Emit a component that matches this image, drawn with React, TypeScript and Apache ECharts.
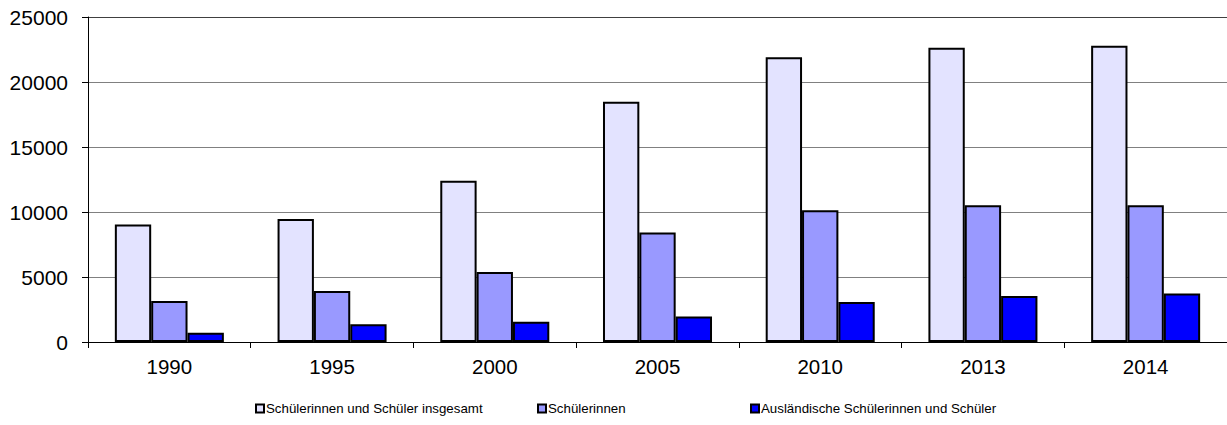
import React, { useEffect, useRef } from "react";
import * as echarts from "echarts";

const categories = ["1990", "1995", "2000", "2005", "2010", "2013", "2014"];
const seriesNames = [
  "Schülerinnen und Schüler insgesamt",
  "Schülerinnen",
  "Ausländische Schülerinnen und Schüler",
];
const totalValues = [9030, 9460, 12400, 18480, 21900, 22640, 22790];
const femaleValues = [3150, 3920, 5390, 8420, 10130, 10510, 10510];
const foreignValues = [720, 1360, 1560, 1970, 3080, 3540, 3740];
const seriesColors = ["#E3E3FF", "#9999FF", "#0000FF"];
const legendLefts = [255, 537, 750];

const FONT = "'Liberation Sans', Arial, sans-serif";

export default function App() {
  const ref = useRef<HTMLDivElement>(null);
  useEffect(() => {
    if (!ref.current) return;
    const chart = echarts.init(ref.current, null, { renderer: "svg" });
    const values = [totalValues, femaleValues, foreignValues];
    chart.setOption({
      animation: false,
      backgroundColor: "#ffffff",
      textStyle: { fontFamily: FONT, color: "#000" },
      grid: { left: 88, right: 0, top: 17, bottom: 83, containLabel: false },
      legend: seriesNames.map((name, i) => ({
        data: [name],
        left: legendLefts[i],
        top: 402,
        itemWidth: 8,
        itemHeight: 8,
        icon: "rect",
        selectedMode: false,
        padding: 0,
        textStyle: { fontFamily: FONT, fontSize: 13.3, color: "#000", padding: [0, 0, 0, -3] },
      })),
      xAxis: {
        type: "category",
        data: categories,
        axisLine: { show: true, lineStyle: { color: "#000", width: 1 } },
        axisTick: { show: true, length: 6, alignWithLabel: false, lineStyle: { color: "#000" } },
        axisLabel: { fontFamily: FONT, fontSize: 20.5, color: "#000", margin: 14 },
        splitLine: { show: false },
      },
      yAxis: {
        type: "value",
        min: 0,
        max: 25000,
        interval: 5000,
        axisLine: { show: true, lineStyle: { color: "#000", width: 1 } },
        axisTick: { show: true, length: 6, inside: false, lineStyle: { color: "#000" } },
        axisLabel: {
          fontFamily: FONT,
          fontSize: 21,
          color: "#000",
          margin: 20,
          formatter: (v: number) => String(v),
        },
        splitLine: {
          show: true,
          lineStyle: {
            color: ["#808080", "#808080", "#808080", "#808080", "#808080", "#404040"],
            width: 1,
          },
        },
      },
      series: seriesNames.map((name, i) => ({
        name,
        type: "bar",
        data: values[i],
        barGap: "0%",
        barCategoryGap: "33%",
        itemStyle: { color: seriesColors[i], borderColor: "#000", borderWidth: 2 },
      })),
    });
    return () => chart.dispose();
  }, []);
  return (
    <div
      ref={ref}
      style={{ position: "fixed", left: 0, top: 0, width: 1227, height: 425, background: "#fff" }}
    />
  );
}
